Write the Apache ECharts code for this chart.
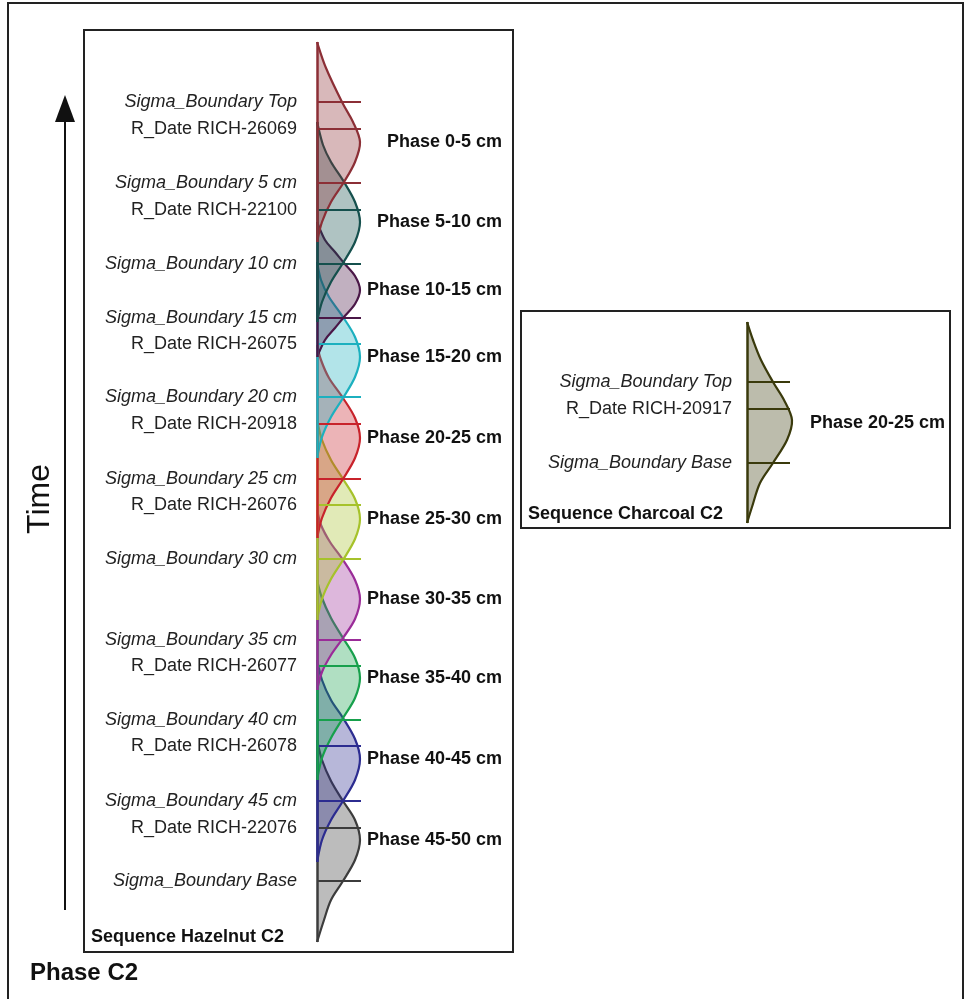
<!DOCTYPE html>
<html>
<head>
<meta charset="utf-8">
<title>Phase C2</title>
<script src="https://cdn.jsdelivr.net/npm/echarts@6/dist/echarts.min.js"></script>
<style>
  html, body { margin: 0; padding: 0; background: #fff; }
  #chart { width: 966px; height: 999px; }
</style>
</head>
<body>
<div id="chart"></div>
<script>
// ---- data (position along the sequence: 0 = top, density in arbitrary units) ----
const hazelPhases = ["Phase 0-5 cm", "Phase 5-10 cm", "Phase 10-15 cm", "Phase 15-20 cm", "Phase 20-25 cm",
  "Phase 25-30 cm", "Phase 30-35 cm", "Phase 35-40 cm", "Phase 40-45 cm", "Phase 45-50 cm"];
const hazelColors = ["#8c2f36", "#15504d", "#4a1747", "#1cb0bf", "#c8232b",
  "#a6c22b", "#9a2c98", "#17a04c", "#2c2c90", "#3c3c3c"];

const hazelPos = [
  [0, 26, 60, 80, 100, 120, 140, 160, 180, 200],
  [80, 103, 120, 140, 160, 180, 200, 221, 240, 260, 280],
  [180, 198, 210, 221, 234, 248, 262, 275, 286, 298, 315],
  [220, 238, 255, 275, 295, 315, 335, 356, 375, 395, 416],
  [303, 318, 336, 356, 376, 396, 416, 437, 456, 476, 496],
  [378, 398, 418, 437, 457, 477, 497, 518, 537, 557, 578],
  [468, 483, 500, 518, 538, 557, 577, 596, 613, 630, 648],
  [538, 556, 576, 596, 616, 636, 656, 676, 696, 716, 738],
  [618, 638, 658, 676, 697, 717, 738, 759, 778, 798, 820],
  [698, 718, 739, 759, 778, 798, 818, 839, 858, 878, 900]
];
const hazelDensity = [
  [0, 9, 25, 36, 43, 38, 27, 14, 5, 0],
  [0, 6, 14, 27, 38, 43, 38, 26, 14, 5, 0],
  [0, 8, 18, 27, 38, 43, 38, 27, 18, 8, 0],
  [0, 4, 12, 26, 38, 43, 38, 26, 14, 5, 0],
  [0, 4, 12, 26, 38, 43, 38, 26, 14, 5, 0],
  [0, 5, 14, 26, 38, 43, 38, 26, 14, 5, 0],
  [0, 4, 13, 26, 38, 43, 38, 26, 14, 5, 0],
  [0, 5, 14, 26, 38, 43, 38, 26, 14, 5, 0],
  [0, 5, 14, 26, 38, 43, 38, 26, 14, 5, 0],
  [0, 5, 14, 26, 38, 43, 38, 26, 14, 7, 0]
];
const hazelTickNames = [
  ["Sigma_Boundary Top", "R_Date RICH-26069", "Sigma_Boundary 5 cm"],
  ["R_Date RICH-22100", "Sigma_Boundary 10 cm"],
  ["Sigma_Boundary 15 cm"],
  ["R_Date RICH-26075", "Sigma_Boundary 20 cm"],
  ["R_Date RICH-20918", "Sigma_Boundary 25 cm"],
  ["R_Date RICH-26076", "Sigma_Boundary 30 cm"],
  ["Sigma_Boundary 35 cm"],
  ["R_Date RICH-26077", "Sigma_Boundary 40 cm"],
  ["R_Date RICH-26078", "Sigma_Boundary 45 cm"],
  ["R_Date RICH-22076", "Sigma_Boundary Base"]
];
const hazelTickPos = [[60, 87, 141], [168, 222], [276], [302, 355], [382, 437],
  [463, 517], [598], [624, 678], [704, 759], [786, 839]];

const charPhase = "Phase 20-25 cm";
const charColor = "#3a3a0c";
const charPos = [0, 18, 38, 60, 78, 98, 118, 141, 161, 185, 201];
const charDensity = [0, 6, 14, 26, 37, 45, 40, 26, 13, 5, 0];
const charTickNames = ["Sigma_Boundary Top", "R_Date RICH-20917", "Sigma_Boundary Base"];
const charTickPos = [60, 87, 141];

const FONT = '"Liberation Sans", Arial, sans-serif';

function withAlpha(hex, a) {
  const n = parseInt(hex.slice(1), 16);
  return "rgba(" + (n >> 16) + "," + ((n >> 8) & 255) + "," + (n & 255) + "," + a + ")";
}

// smooth path (catmull-rom -> bezier) through the projected points
function curvePath(pts) {
  let d = "M" + pts[0][0] + " " + pts[0][1];
  for (let i = 0; i < pts.length - 1; i++) {
    const p0 = pts[Math.max(i - 1, 0)], p1 = pts[i], p2 = pts[i + 1], p3 = pts[Math.min(i + 2, pts.length - 1)];
    const c1x = p1[0] + (p2[0] - p0[0]) / 6, c1y = p1[1] + (p2[1] - p0[1]) / 6;
    const c2x = p2[0] - (p3[0] - p1[0]) / 6, c2y = p2[1] - (p3[1] - p1[1]) / 6;
    d += " C" + c1x + " " + c1y + " " + c2x + " " + c2y + " " + p2[0] + " " + p2[1];
  }
  return d;
}

function buildSeries(name, color, pos, dens, tickNames, tickPos, gi, gap, tickLen) {
  const marks = tickNames.map((n, i) => [
    { name: n, coord: [0, tickPos[i]], label: { fontStyle: n.indexOf("Sigma") === 0 ? "italic" : "normal" } },
    { coord: [tickLen, tickPos[i]] }
  ]);
  // coloured segment along the baseline
  marks.push([{ coord: [0, pos[0]], label: { show: false }, lineStyle: { width: 2.5 } }, { coord: [0, pos[pos.length - 1]] }]);
  return {
    type: "custom",
    name: name,
    xAxisIndex: gi,
    yAxisIndex: gi,
    silent: true,
    data: [[0, pos[0]]],
    renderItem: function (params, api) {
      const pts = pos.map((p, i) => api.coord([dens[i], p]));
      const d = curvePath(pts);
      return {
        type: "group",
        children: [
          { type: "path", shape: { pathData: d + " Z" }, style: { fill: withAlpha(color, 0.34), stroke: null } },
          { type: "path", shape: { pathData: d }, style: { fill: null, stroke: color, lineWidth: 2.2 } }
        ]
      };
    },
    markLine: {
      silent: true,
      symbol: ["none", "none"],
      animation: false,
      lineStyle: { color: color, width: 2, type: "solid" },
      label: {
        show: true, position: "start", distance: gap, formatter: "{b}",
        color: "#222", fontSize: 18, fontFamily: FONT, padding: [0, 0, 6, 0]
      },
      data: marks
    }
  };
}

const chart = echarts.init(document.getElementById("chart"));

const series = [];
// earlier phases sit on top, so add from the bottom up
for (let i = hazelPhases.length - 1; i >= 0; i--) {
  series.push(buildSeries(hazelPhases[i], hazelColors[i], hazelPos[i], hazelDensity[i],
    hazelTickNames[i], hazelTickPos[i], 0, 20, 44));
}
series.push(buildSeries(charPhase, charColor, charPos, charDensity, charTickNames, charTickPos, 1, 15, 43));

const option = {
  animation: false,
  backgroundColor: "#fff",
  grid: [
    { left: 317, top: 42, width: 44, height: 900 },
    { left: 747, top: 322, width: 45, height: 201 }
  ],
  xAxis: [
    { type: "value", gridIndex: 0, min: 0, max: 44, show: false },
    { type: "value", gridIndex: 1, min: 0, max: 45, show: false }
  ],
  yAxis: [
    { type: "value", gridIndex: 0, min: 0, max: 900, inverse: true, show: false },
    { type: "value", gridIndex: 1, min: 0, max: 201, inverse: true, show: false }
  ],
  series: series
};
chart.setOption(option);

// phase labels, placed at each curve's peak through the axis scale
function peakOf(pos, dens) {
  let k = 0;
  dens.forEach((d, i) => { if (d > dens[k]) k = i; });
  return pos[k];
}
const graphics = [];
hazelPhases.forEach((p, i) => {
  const y = chart.convertToPixel({ yAxisIndex: 0 }, peakOf(hazelPos[i], hazelDensity[i]));
  graphics.push({ type: "text", x: 502, y: y, style: { text: p, font: "bold 18px " + FONT, fill: "#111", align: "right", verticalAlign: "middle" } });
});
const cy = chart.convertToPixel({ yAxisIndex: 1 }, peakOf(charPos, charDensity));
graphics.push({ type: "text", x: 945, y: cy + 3, style: { text: charPhase, font: "bold 18px " + FONT, fill: "#111", align: "right", verticalAlign: "middle" } });

// frames, titles and the time arrow
graphics.push(
  { type: "rect", shape: { x: 8, y: 3, width: 955, height: 1010 }, style: { fill: "none", stroke: "#222", lineWidth: 2 } },
  { type: "rect", shape: { x: 84, y: 30, width: 429, height: 922 }, style: { fill: "none", stroke: "#222", lineWidth: 2 } },
  { type: "rect", shape: { x: 521, y: 311, width: 429, height: 217 }, style: { fill: "none", stroke: "#222", lineWidth: 2 } },
  { type: "text", x: 91, y: 937, style: { text: "Sequence Hazelnut C2", font: "bold 18px " + FONT, fill: "#111", verticalAlign: "middle" } },
  { type: "text", x: 528, y: 514, style: { text: "Sequence Charcoal C2", font: "bold 18px " + FONT, fill: "#111", verticalAlign: "middle" } },
  { type: "text", x: 30, y: 973, style: { text: "Phase C2", font: "bold 24px " + FONT, fill: "#111", verticalAlign: "middle" } },
  { type: "text", x: 40, y: 499, rotation: Math.PI / 2, style: { text: "Time", font: "32px " + FONT, fill: "#111", align: "center", verticalAlign: "middle" } },
  { type: "line", shape: { x1: 65, y1: 910, x2: 65, y2: 115 }, style: { stroke: "#111", lineWidth: 2 } },
  { type: "polygon", shape: { points: [[55, 122], [65, 95], [75, 122]] }, style: { fill: "#111" } }
);
chart.setOption({ graphic: graphics });
</script>
</body>
</html>
